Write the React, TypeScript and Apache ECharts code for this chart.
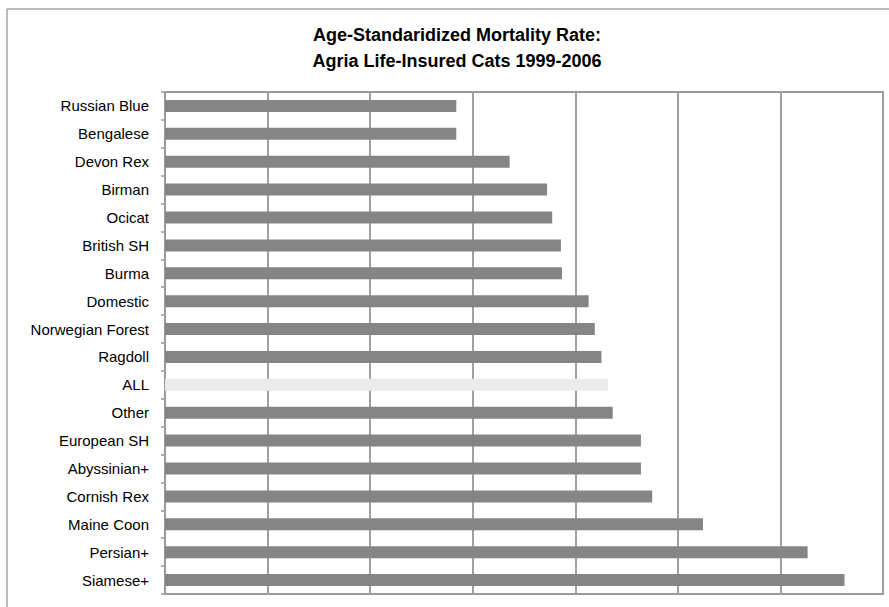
import React, { useEffect, useRef } from "react";
import * as echarts from "echarts";

const categories = [
  "Russian Blue",
  "Bengalese",
  "Devon Rex",
  "Birman",
  "Ocicat",
  "British SH",
  "Burma",
  "Domestic",
  "Norwegian Forest",
  "Ragdoll",
  "ALL",
  "Other",
  "European SH",
  "Abyssinian+",
  "Cornish Rex",
  "Maine Coon",
  "Persian+",
  "Siamese+",
];

const rates = [
  56.8, 56.8, 67.2, 74.5, 75.5, 77.2, 77.4, 82.6, 83.8, 85.1, 86.4, 87.3, 92.8,
  92.8, 95.0, 104.9, 125.3, 132.5,
];

const titleLines = [
  "Age-Standaridized Mortality Rate:",
  "Agria Life-Insured Cats 1999-2006",
];

const highlightCategory = "ALL";

export default function App() {
  const ref = useRef<HTMLDivElement>(null);

  useEffect(() => {
    if (!ref.current) return;
    const chart = echarts.init(ref.current, null, { renderer: "svg" });
    const data = categories.map((c, i) => ({
      value: rates[i],
      itemStyle: { color: c === highlightCategory ? "#ebebeb" : "#858585" },
    }));
    const titleFont =
      'bold 18px "Liberation Sans Narrow", "Liberation Sans", Arial, sans-serif';
    chart.setOption({
      animation: false,
      backgroundColor: "#ffffff",
      graphic: [
        {
          type: "line",
          shape: { x1: 7, y1: 9, x2: 889, y2: 9 },
          style: { stroke: "#a6a6a6", lineWidth: 1.5 },
        },
        {
          type: "line",
          shape: { x1: 7, y1: 9, x2: 7, y2: 607 },
          style: { stroke: "#a6a6a6", lineWidth: 1.5 },
        },
        {
          type: "text",
          x: 457,
          y: 35,
          style: {
            text: titleLines[0],
            textAlign: "center",
            textVerticalAlign: "middle",
            font: titleFont,
            fill: "#000",
          },
        },
        {
          type: "text",
          x: 457,
          y: 61,
          style: {
            text: titleLines[1],
            textAlign: "center",
            textVerticalAlign: "middle",
            font: titleFont,
            fill: "#000",
          },
        },
      ],
      grid: {
        left: 165,
        right: 6,
        top: 92,
        bottom: 13,
        show: true,
        borderColor: "#9a9a9a",
        borderWidth: 2,
        containLabel: false,
      },
      xAxis: {
        type: "value",
        min: 0,
        max: 140,
        interval: 20,
        axisLabel: { show: false },
        axisTick: { show: false },
        axisLine: { show: false },
        splitLine: { show: true, lineStyle: { color: "#a0a0a0", width: 2 } },
      },
      yAxis: {
        type: "category",
        data: categories,
        inverse: true,
        axisLine: { show: true, lineStyle: { color: "#9a9a9a", width: 2 } },
        axisTick: { show: true, length: 4, lineStyle: { color: "#9a9a9a", width: 1.5 } },
        axisLabel: {
          margin: 16,
          fontSize: 15,
          color: "#000",
          fontFamily: '"Liberation Sans", Arial, sans-serif',
        },
        splitLine: { show: false },
      },
      series: [
        {
          type: "bar",
          data,
          barWidth: 12,
        },
      ],
    });
    return () => chart.dispose();
  }, []);

  return (
    <div
      ref={ref}
      style={{
        position: "fixed",
        left: 0,
        top: 0,
        width: "889px",
        height: "607px",
      }}
    />
  );
}
